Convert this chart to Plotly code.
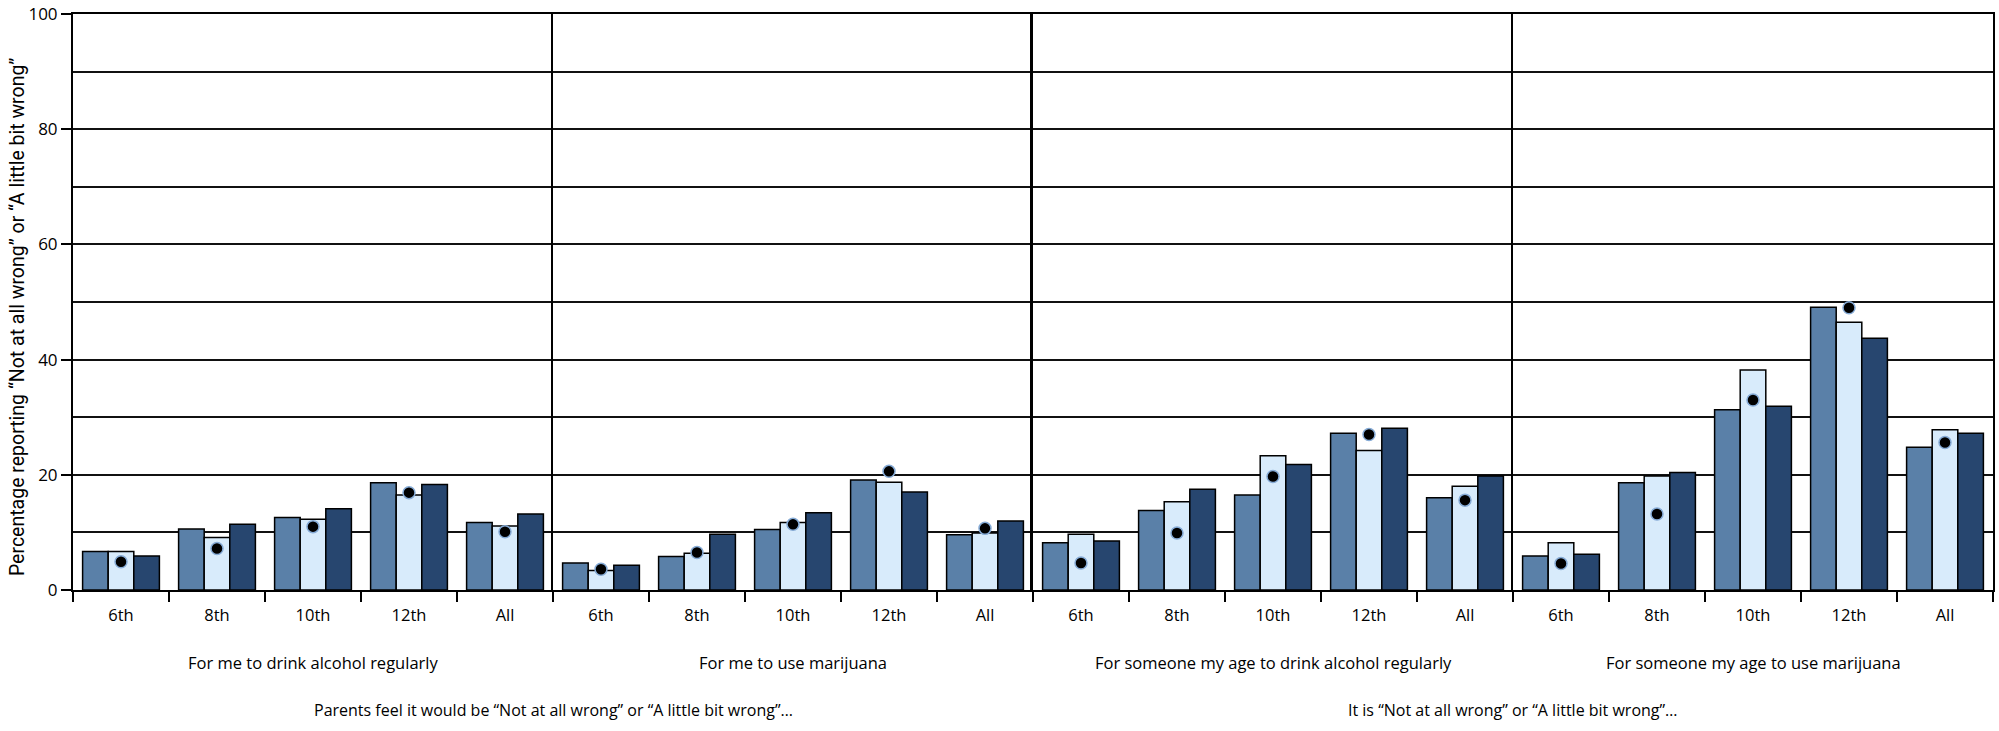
import plotly.graph_objects as go

grades = ["6th", "8th", "10th", "12th", "All"]
panel_titles = [
    "For me to drink alcohol regularly",
    "For me to use marijuana",
    "For someone my age to drink alcohol regularly",
    "For someone my age to use marijuana",
]
group_titles = [
    "Parents feel it would be \u201cNot at all wrong\u201d or \u201cA little bit wrong\u201d\u2026",
    "It is \u201cNot at all wrong\u201d or \u201cA little bit wrong\u201d\u2026",
]
y_title = "Percentage reporting \u201cNot at all wrong\u201d or \u201cA little bit wrong\u201d"
y_ticks = [0, 20, 40, 60, 80, 100]

# values per panel (4 panels x 5 grades)
series_a = [
    [6.7, 10.6, 12.6, 18.6, 11.7],
    [4.7, 5.8, 10.5, 19.1, 9.6],
    [8.2, 13.8, 16.5, 27.2, 16.0],
    [5.9, 18.6, 31.3, 49.1, 24.8],
]
series_b = [
    [6.7, 9.1, 12.3, 16.5, 11.1],
    [3.4, 6.4, 11.7, 18.7, 9.9],
    [9.7, 15.3, 23.3, 24.2, 18.0],
    [8.2, 19.8, 38.2, 46.5, 27.8],
]
series_c = [
    [5.9, 11.4, 14.1, 18.3, 13.2],
    [4.3, 9.7, 13.4, 17.0, 12.0],
    [8.5, 17.5, 21.8, 28.1, 19.8],
    [6.2, 20.4, 31.9, 43.7, 27.2],
]
benchmark = [
    [4.9, 7.2, 11.0, 16.9, 10.1],
    [3.6, 6.5, 11.4, 20.6, 10.7],
    [4.7, 9.9, 19.7, 27.0, 15.6],
    [4.6, 13.2, 33.0, 49.0, 25.6],
]

colors = ["#5a80a8", "#d8ebfb", "#27466f"]
FONT = "Open Sans, Noto Sans, sans-serif"
NARROW = "Liberation Sans Narrow, Roboto, sans-serif"

fig = go.Figure()
for i in range(4):
    xa = "x" if i == 0 else f"x{i+1}"
    ya = "y" if i == 0 else f"y{i+1}"
    for vals, col in zip([series_a[i], series_b[i], series_c[i]], colors):
        fig.add_trace(go.Bar(
            x=grades, y=vals, xaxis=xa, yaxis=ya,
            marker=dict(color=col, line=dict(color="black", width=1.5)),
            showlegend=False, hoverinfo="y",
        ))
    fig.add_trace(go.Scatter(
        x=grades, y=benchmark[i], xaxis=xa, yaxis=ya, mode="markers",
        marker=dict(color="black", size=12, line=dict(color="#86abd6", width=1.5)),
        showlegend=False, hoverinfo="y",
    ))

layout = dict(
    width=1999, height=731,
    margin=dict(l=73, r=6, t=14, b=141),
    paper_bgcolor="white", plot_bgcolor="white",
    barmode="group", bargap=0.2, bargroupgap=0,
    showlegend=False,
    font=dict(family=FONT, size=15, color="black"),
)
for i in range(4):
    k = "" if i == 0 else str(i + 1)
    layout[f"xaxis{k}"] = dict(
        domain=[i / 4, (i + 1) / 4], anchor=f"y{k}", automargin=False,
        type="category", categoryorder="array", categoryarray=grades,
        tickson="boundaries", ticks="outside", ticklen=10, tickwidth=1.5, tickcolor="black",
        ticklabelstandoff=9,
        showline=True, linecolor="black", linewidth=2, mirror=True,
        showgrid=False, zeroline=False,
        tickfont=dict(family=FONT, size=16.5, color="black"),
    )
    layout[f"yaxis{k}"] = dict(
        domain=[0, 1], anchor=f"x{k}", range=[0, 100], automargin=False,
        tickmode="array", tickvals=y_ticks, ticklabeloverflow="allow",
        showticklabels=(i == 0), ticks="outside" if i == 0 else "",
        ticklen=10, tickwidth=1.5, tickcolor="black",
        showgrid=True, gridcolor="#111111", gridwidth=1.5,
        minor=dict(tickmode="linear", tick0=0, dtick=10, showgrid=True,
                   gridcolor="#111111", gridwidth=1.5, ticks=""),
        showline=True, linecolor="black", linewidth=3 if i == 2 else 2,
        mirror=(i == 3), zeroline=False,
        tickfont=dict(family=FONT, size=17, color="black"),
    )
    if i > 0:
        layout[f"yaxis{k}"]["matches"] = "y"

annotations = []
for i, t in enumerate(panel_titles):
    annotations.append(dict(
        text=t, x=(i + 0.5) / 4, y=-0.125, xref="paper", yref="paper",
        xanchor="center", yanchor="middle", showarrow=False,
        font=dict(family=FONT, size=16.5, color="black"),
    ))
for j, t in enumerate(group_titles):
    annotations.append(dict(
        text=t, x=0.25 + 0.5 * j, y=-0.208, xref="paper", yref="paper",
        xanchor="center", yanchor="middle", showarrow=False,
        font=dict(family=FONT, size=16, color="black"),
    ))
annotations.append(dict(
    text=y_title, x=-0.0286, y=0.474, xref="paper", yref="paper",
    xanchor="center", yanchor="middle", textangle=-90, showarrow=False,
    font=dict(family=NARROW, size=19.5, color="black"),
))
layout["annotations"] = annotations
fig.update_layout(**layout)

fig.write_html("out.html", config={"displayModeBar": False},
               post_script="document.body.style.margin='0px';")
